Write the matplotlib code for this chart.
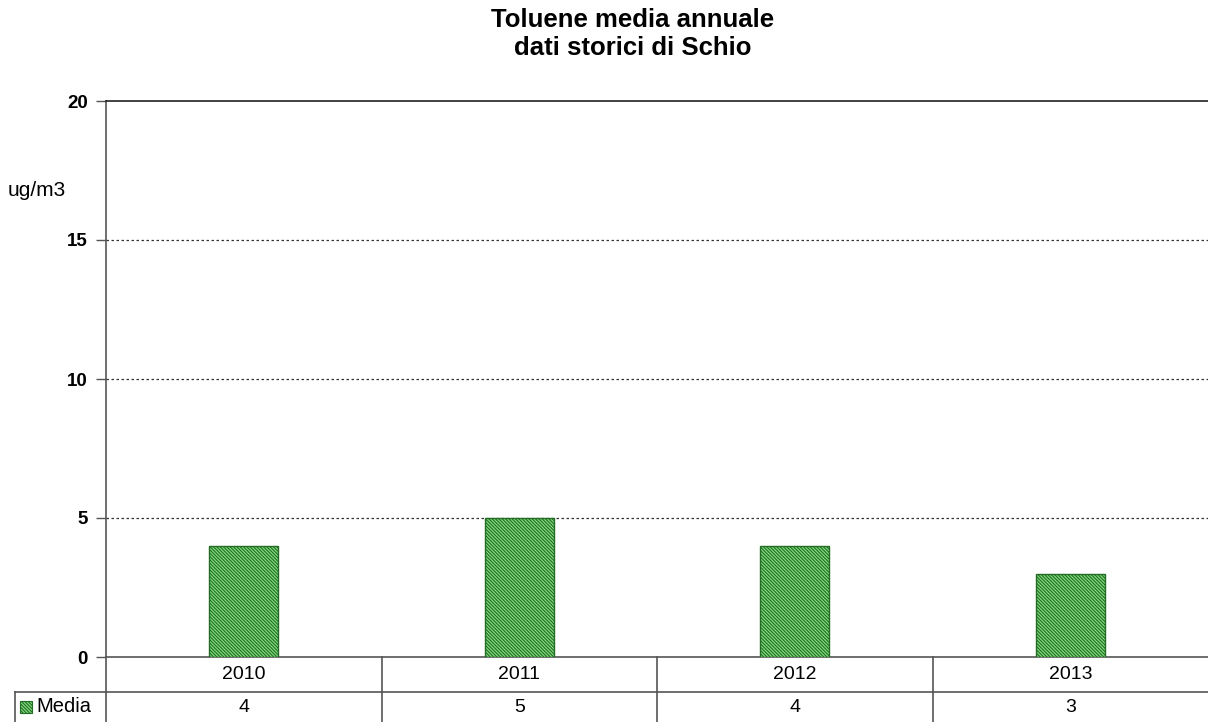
import numpy as np
import matplotlib.pyplot as plt
from matplotlib.lines import Line2D
from matplotlib.patches import Rectangle
from matplotlib.transforms import blended_transform_factory

plt.rcParams['font.family'] = ['Liberation Sans', 'DejaVu Sans']
plt.rcParams['hatch.linewidth'] = 0.8

# ---- dati ----
anni   = ['2010', '2011', '2012', '2013']
media  = [4, 5, 4, 3]
yticks = [0, 5, 10, 15, 20]
serie  = 'Media'
titolo = 'Toluene media annuale\ndati storici di Schio'
unita  = 'ug/m3'

VERDE  = '#7fdc7f'
VERDE_SCURO = '#246b24'
GRIGIO = '#555555'
TRATTEGGIO = '\\' * 10

W, H = 1208, 722
fig = plt.figure(figsize=(W / 100, H / 100), dpi=100)
ax = fig.add_axes([106 / W, (H - 657) / H, 1 - 106 / W, 556 / H])

x = np.arange(len(anni)) + 0.5
ax.bar(x, media, width=0.25, facecolor=VERDE, edgecolor=VERDE_SCURO,
       hatch=TRATTEGGIO, linewidth=1.0, zorder=3)

ax.set_xlim(0, len(anni))
ax.set_ylim(0, 20)
ax.set_yticks(yticks)
ax.set_yticklabels([str(v) for v in yticks], fontsize=13.5, fontweight='bold')
ax.tick_params(axis='y', length=7, width=1, color=GRIGIO, pad=6)
ax.set_xticks([])
for v in yticks[1:-1]:
    ax.axhline(v, color='#333333', lw=0.9, ls=(0, (2, 2)), zorder=1)

ax.spines['right'].set_visible(False)
ax.spines['top'].set_color('#222222')
ax.spines['left'].set_color(GRIGIO)
ax.spines['bottom'].set_color(GRIGIO)
for s in ax.spines.values():
    s.set_linewidth(1.2)

fig.text(633 / W, 1 - 34 / H, titolo, ha='center', va='center',
         fontsize=18.5, fontweight='bold', linespacing=1.25)
fig.text(8 / W, 1 - 190 / H, unita, ha='left', va='center', fontsize=15)

# ---- tabella dati sotto il grafico ----
tr = blended_transform_factory(ax.transData, ax.transAxes)
r1 = -35 / 556
r2 = -65 / 556
kw = dict(color=GRIGIO, lw=1.2, clip_on=False)
for k in range(0, len(anni)):
    ax.add_line(Line2D([k, k], [0, r2 - 0.05], transform=tr, **kw))
fig.add_artist(Line2D([15 / W, 1], [(H - 692) / H] * 2, transform=fig.transFigure,
                      color=GRIGIO, lw=1.2))
fig.add_artist(Line2D([15 / W] * 2, [0, (H - 692) / H], transform=fig.transFigure,
                      color=GRIGIO, lw=1.2))
for xi, a, v in zip(x, anni, media):
    ax.text(xi, r1 / 2, a, transform=tr, ha='center', va='center',
            fontsize=14, clip_on=False)
    ax.text(xi, (r1 + r2) / 2, str(v), transform=tr, ha='center', va='center',
            fontsize=14, clip_on=False)

key = Rectangle((20 / W, (H - 713) / H), 12 / W, 12 / H, transform=fig.transFigure,
                facecolor=VERDE, edgecolor=VERDE_SCURO, hatch=TRATTEGGIO, lw=0.8)
fig.add_artist(key)
fig.text(36 / W, (H - 707) / H, serie, ha='left', va='center', fontsize=14.5)

fig.savefig('out.png', dpi=100, facecolor='white')
